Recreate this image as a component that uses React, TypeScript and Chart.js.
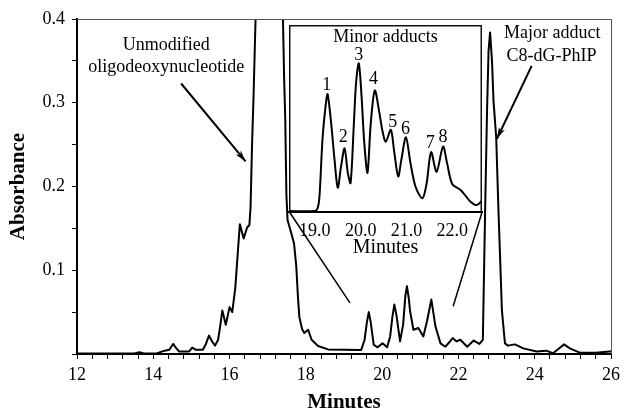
import React, { useEffect, useRef } from "react";
import { Chart, registerables } from "chart.js";
Chart.register(...registerables);

const FONT = "'Liberation Serif', 'Times New Roman', Times, serif";

// ---- main chromatogram ----
const minutes = [
  12.0, 12.8, 13.5, 13.64, 13.75, 14.1, 14.3, 14.42, 14.52, 14.6, 14.68, 14.94, 15.02, 15.12, 15.3,
  15.38, 15.46, 15.54, 15.62, 15.7, 15.76, 15.81, 15.9, 16.0, 16.07, 16.15, 16.22, 16.27, 16.37,
  16.46, 16.52, 16.55, 16.59, 16.63, 16.68, 16.75, 16.95, 17.2, 17.36, 17.4, 17.43, 17.46, 17.49,
  17.52, 17.62, 17.69, 17.75, 17.79, 17.83, 17.9, 17.96, 18.06, 18.15, 18.32, 18.58, 19.45, 19.54,
  19.6, 19.65, 19.7, 19.78, 19.88, 20.01, 20.13, 20.21, 20.27, 20.32, 20.38, 20.47, 20.55, 20.61,
  20.65, 20.7, 20.73, 20.82, 20.95, 21.08, 21.18, 21.29, 21.34, 21.4, 21.53, 21.66, 21.76, 21.85,
  21.95, 22.05, 22.23, 22.4, 22.55, 22.64, 22.7, 22.75, 22.79, 22.83, 22.88, 22.92, 22.99, 23.05,
  23.14, 23.22, 23.3, 23.48, 23.7, 24.05, 24.3, 24.48, 24.62, 24.77, 24.92, 25.18, 25.6, 25.96, 26.0,
];
const absorbance = [
  0.0005, 0.0005, 0.0005, 0.002, 0.0005, 0.001, 0.004, 0.005, 0.012, 0.007, 0.003, 0.003, 0.0075, 0.005, 0.005,
  0.012, 0.022, 0.015, 0.01, 0.017, 0.035, 0.052, 0.035, 0.056, 0.05, 0.079, 0.124, 0.155, 0.138,
  0.151, 0.154, 0.175, 0.251, 0.31, 0.398, 0.7, 1.2, 1.2, 0.7, 0.4, 0.33, 0.28, 0.19,
  0.16, 0.144, 0.132, 0.104, 0.07, 0.044, 0.03, 0.025, 0.029, 0.017, 0.0095, 0.0055, 0.0048, 0.017,
  0.038, 0.05, 0.038, 0.011, 0.008, 0.0127, 0.008, 0.021, 0.045, 0.059, 0.045, 0.015, 0.035, 0.07,
  0.081, 0.066, 0.052, 0.029, 0.031, 0.021, 0.04, 0.065, 0.05, 0.0325, 0.0127, 0.0087, 0.014, 0.019,
  0.015, 0.017, 0.0087, 0.016, 0.012, 0.017, 0.171, 0.29, 0.362, 0.384, 0.35, 0.302, 0.259, 0.171,
  0.052, 0.0127, 0.01, 0.0115, 0.0067, 0.003, 0.004, 0.001, 0.006, 0.0115, 0.0067, 0.0016, 0.0015, 0.003, 0.003,
];

// ---- inset (minor adducts) ----
const insetMinutes = [
  18.43, 19.0, 19.06, 19.1, 19.17, 19.25, 19.28, 19.35, 19.43, 19.5, 19.57, 19.65, 19.72, 19.78,
  19.85, 19.9, 19.96, 20.02, 20.08, 20.15, 20.22, 20.31, 20.41, 20.48, 20.55, 20.66, 20.73, 20.82,
  20.89, 20.99, 21.09, 21.2, 21.35, 21.44, 21.54, 21.66, 21.8, 21.89, 22.0, 22.17, 22.25, 22.4,
  22.54, 22.65,
];
const insetSignal = [
  0.005, 0.006, 0.02, 0.08, 0.4, 0.6, 0.63, 0.49, 0.28, 0.13, 0.24, 0.34, 0.21, 0.155,
  0.46, 0.69, 0.795, 0.62, 0.37, 0.21, 0.47, 0.65, 0.53, 0.43, 0.376, 0.44, 0.33, 0.19,
  0.28, 0.4, 0.26, 0.135, 0.073, 0.15, 0.32, 0.215, 0.35, 0.26, 0.15, 0.12, 0.1, 0.055,
  0.037, 0.06,
];
const insetTicks = [19, 20, 21, 22];
const peakNames = ["1", "2", "3", "4", "5", "6", "7", "8"];
const peakNameMinutes = [19.26, 19.62, 19.96, 20.28, 20.7, 20.98, 21.52, 21.8];
const peakNameLevel = [0.68, 0.4, 0.84, 0.71, 0.48, 0.44, 0.37, 0.4];

// inset box location in main-chart data coordinates
const insetBoxMinutes = [17.57, 22.62];
const insetBoxLevels = [0.1696, 0.3928];
const connectorEnds = [
  [19.156, 0.061],
  [21.862, 0.057],
];

function arrow(ctx: CanvasRenderingContext2D, x1: number, y1: number, x2: number, y2: number) {
  ctx.beginPath();
  ctx.moveTo(x1, y1);
  ctx.lineTo(x2, y2);
  ctx.stroke();
  const a = Math.atan2(y2 - y1, x2 - x1);
  const h = 12;
  ctx.beginPath();
  ctx.moveTo(x2, y2);
  ctx.lineTo(x2 - h * Math.cos(a - 0.28), y2 - h * Math.sin(a - 0.28));
  ctx.lineTo(x2 - h * 0.7 * Math.cos(a), y2 - h * 0.7 * Math.sin(a));
  ctx.lineTo(x2 - h * Math.cos(a + 0.28), y2 - h * Math.sin(a + 0.28));
  ctx.closePath();
  ctx.fill();
}

const mainDecor = {
  id: "mainDecor",
  afterDraw(chart: any) {
    const { ctx, chartArea: ca, scales } = chart;
    const x = scales.x, y = scales.y;
    ctx.save();
    ctx.strokeStyle = "#555";
    ctx.lineWidth = 1;
    ctx.beginPath();
    ctx.moveTo(ca.left, ca.top + 0.5);
    ctx.lineTo(ca.right + 0.5, ca.top + 0.5);
    ctx.lineTo(ca.right + 0.5, ca.bottom);
    ctx.stroke();

    ctx.fillStyle = "#000";
    ctx.strokeStyle = "#000";
    ctx.textAlign = "center";
    ctx.textBaseline = "middle";
    ctx.font = `18px ${FONT}`;
    ctx.fillText("Unmodified", x.getPixelForValue(14.34), y.getPixelForValue(0.369));
    ctx.fillText("oligodeoxynucleotide", x.getPixelForValue(14.34), y.getPixelForValue(0.342));
    ctx.fillText("Major adduct", x.getPixelForValue(24.46), y.getPixelForValue(0.383));
    ctx.fillText("C8-dG-PhIP", x.getPixelForValue(24.44), y.getPixelForValue(0.356));

    ctx.lineWidth = 2;
    arrow(ctx, x.getPixelForValue(14.73), y.getPixelForValue(0.323), x.getPixelForValue(16.42), y.getPixelForValue(0.23));
    arrow(ctx, x.getPixelForValue(23.92), y.getPixelForValue(0.344), x.getPixelForValue(23.01), y.getPixelForValue(0.257));

    ctx.lineWidth = 1.5;
    ctx.beginPath();
    ctx.moveTo(x.getPixelForValue(insetBoxMinutes[0]), y.getPixelForValue(insetBoxLevels[0]));
    ctx.lineTo(x.getPixelForValue(connectorEnds[0][0]), y.getPixelForValue(connectorEnds[0][1]));
    ctx.moveTo(x.getPixelForValue(insetBoxMinutes[1]), y.getPixelForValue(insetBoxLevels[0]));
    ctx.lineTo(x.getPixelForValue(connectorEnds[1][0]), y.getPixelForValue(connectorEnds[1][1]));
    ctx.stroke();

    ctx.font = `bold 21px ${FONT}`;
    ctx.fillText("Minutes", (ca.left + ca.right) / 2, ca.bottom + 49);
    ctx.save();
    ctx.translate(19, (ca.top + ca.bottom) / 2);
    ctx.rotate(-Math.PI / 2);
    ctx.fillText("Absorbance", 0, 0);
    ctx.restore();
    ctx.restore();
  },
};

const insetDecor = {
  id: "insetDecor",
  beforeDraw(chart: any) {
    const { ctx, chartArea: ca } = chart;
    ctx.save();
    ctx.fillStyle = "#fff";
    ctx.fillRect(ca.left, ca.top, ca.right - ca.left, ca.bottom - ca.top);
    ctx.restore();
  },
  afterDraw(chart: any) {
    const { ctx, chartArea: ca, scales } = chart;
    const x = scales.x, y = scales.y;
    ctx.save();
    ctx.strokeStyle = "#111";
    ctx.lineWidth = 1.5;
    ctx.beginPath();
    ctx.moveTo(ca.left + 0.75, ca.bottom);
    ctx.lineTo(ca.left + 0.75, ca.top + 0.75);
    ctx.lineTo(ca.right - 0.75, ca.top + 0.75);
    ctx.lineTo(ca.right - 0.75, ca.bottom);
    ctx.stroke();
    ctx.fillStyle = "#000";
    ctx.textAlign = "center";
    ctx.textBaseline = "middle";
    ctx.font = `18px ${FONT}`;
    ctx.fillText("Minor adducts", (ca.left + ca.right) / 2, y.getPixelForValue(0.936));
    peakNames.forEach((n, i) => {
      ctx.fillText(n, x.getPixelForValue(peakNameMinutes[i]), y.getPixelForValue(peakNameLevel[i]));
    });
    ctx.font = `20px ${FONT}`;
    ctx.fillText("Minutes", (ca.left + ca.right) / 2, ca.bottom + 36);
    ctx.restore();
  },
};

export default function App() {
  const mainRef = useRef<HTMLCanvasElement>(null);
  const insetRef = useRef<HTMLCanvasElement>(null);

  useEffect(() => {
    Chart.defaults.font.family = FONT;
    Chart.defaults.font.size = 18;
    Chart.defaults.color = "#000";

    const main = new Chart(mainRef.current!, {
      type: "line",
      data: {
        datasets: [
          {
            data: minutes.map((t, i) => ({ x: t, y: absorbance[i] })),
            borderColor: "#000",
            borderWidth: 2,
            pointRadius: 0,
            tension: 0,
            clip: 0,
            borderJoinStyle: "round",
          } as any,
        ],
      },
      options: {
        responsive: false,
        animation: false,
        events: [],
        layout: { padding: { top: 19, right: 10, left: 0, bottom: 0 } },
        plugins: { legend: { display: false }, tooltip: { enabled: false } },
        scales: {
          x: {
            type: "linear",
            min: 12,
            max: 26,
            afterFit: (s: any) => { s.height = 58; },
            ticks: {
              stepSize: 0.4,
              autoSkip: false,
              maxRotation: 0,
              padding: 5,
              callback: (v: any) => {
                const r = Math.round(v);
                return Math.abs(v - r) < 1e-6 && r % 2 === 0 ? String(r) : "";
              },
            },
            grid: { drawOnChartArea: false, tickLength: 5, color: "#000", tickWidth: 1 },
            border: { color: "#000", width: 2 },
          },
          y: {
            type: "linear",
            min: 0,
            max: 0.4,
            afterFit: (s: any) => { s.width = 77; },
            ticks: {
              stepSize: 0.05,
              autoSkip: false,
              padding: 7,
              callback: (v: any) => {
                const r = Math.round(v * 10);
                return Math.abs(v * 10 - r) < 1e-6 && r > 0 ? (r / 10).toFixed(1) : "";
              },
            },
            grid: { drawOnChartArea: false, tickLength: 5, color: "#000", tickWidth: 1 },
            border: { color: "#000", width: 2 },
          },
        },
      },
      plugins: [mainDecor],
    } as any);

    const xs: any = main.scales.x;
    const ys: any = main.scales.y;
    const L = xs.getPixelForValue(insetBoxMinutes[0]);
    const R = xs.getPixelForValue(insetBoxMinutes[1]);
    const T = ys.getPixelForValue(insetBoxLevels[1]);
    const B = ys.getPixelForValue(insetBoxLevels[0]);
    const pad = 10;
    const below = 50;
    const ic = insetRef.current!;
    const w = Math.round(R - L + 2 * pad);
    const h = Math.round(B - T + pad + below);
    ic.width = w;
    ic.height = h;
    ic.style.width = w + "px";
    ic.style.height = h + "px";
    ic.style.left = Math.round(L - pad) + "px";
    ic.style.top = Math.round(T - pad) + "px";

    const inset = new Chart(ic, {
      type: "line",
      data: {
        datasets: [
          {
            data: insetMinutes.map((t, i) => ({ x: t, y: insetSignal[i] })),
            borderColor: "#000",
            borderWidth: 2,
            pointRadius: 0,
            tension: 0.3,
            clip: 0,
          } as any,
        ],
      },
      options: {
        responsive: false,
        animation: false,
        events: [],
        layout: { padding: { top: pad, right: pad, left: pad, bottom: 0 } },
        plugins: { legend: { display: false }, tooltip: { enabled: false } },
        scales: {
          x: {
            type: "linear",
            min: 18.435,
            max: 22.652,
            afterFit: (s: any) => { s.height = below; },
            afterBuildTicks: (s: any) => { s.ticks = insetTicks.map((v) => ({ value: v })); },
            ticks: { autoSkip: false, maxRotation: 0, padding: 0, callback: (v: any) => Number(v).toFixed(1) },
            grid: { display: false },
            border: { color: "#000", width: 2 },
          },
          y: { display: false, min: 0, max: 1 },
        },
      },
      plugins: [insetDecor],
    } as any);

    return () => {
      inset.destroy();
      main.destroy();
    };
  }, []);

  return (
    <div style={{ position: "absolute", left: 0, top: 0, width: 625, height: 412, background: "#fff" }}>
      <canvas ref={mainRef} width={625} height={412} style={{ position: "absolute", left: 0, top: 0, width: 625, height: 412 }} />
      <canvas ref={insetRef} style={{ position: "absolute" }} />
    </div>
  );
}
